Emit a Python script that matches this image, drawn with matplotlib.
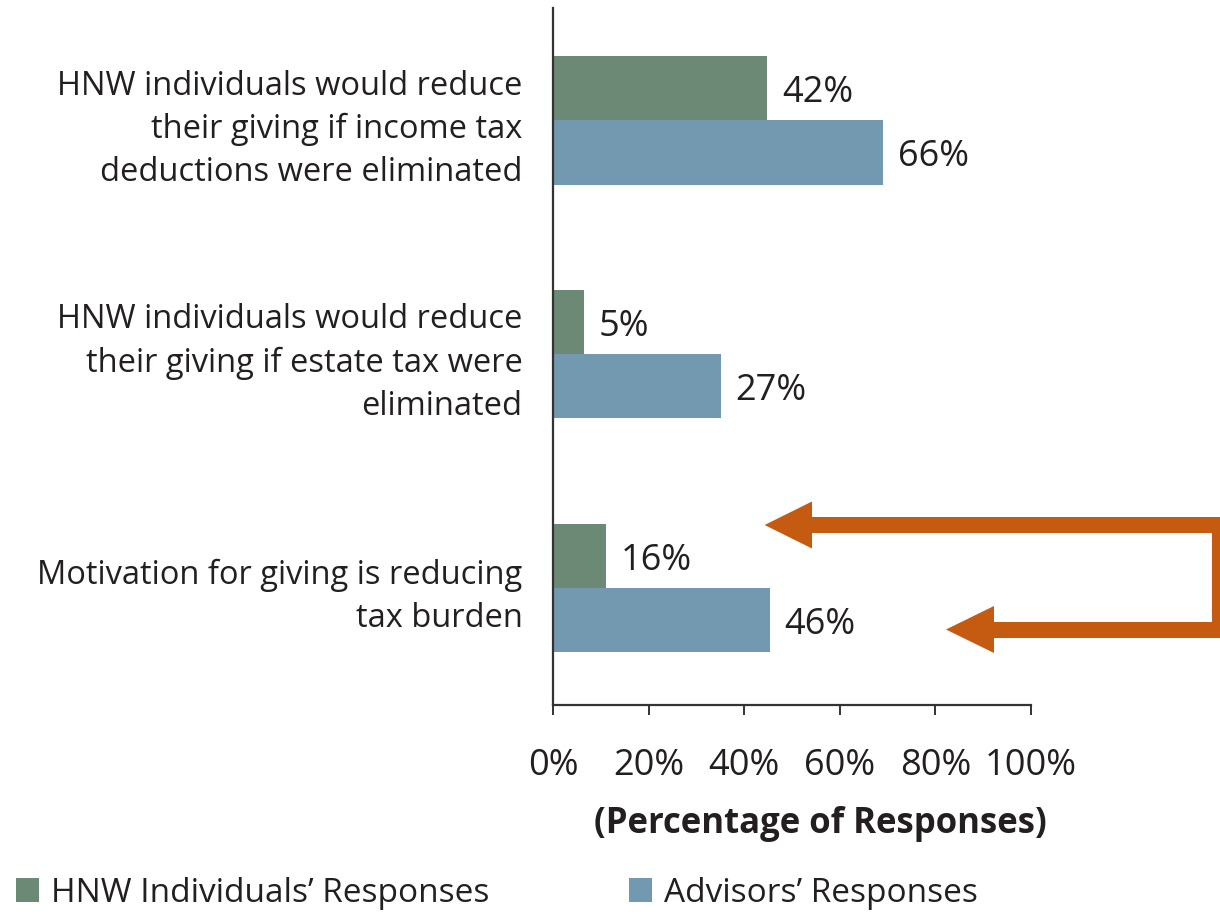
import matplotlib.pyplot as plt
from matplotlib.patches import Polygon
from matplotlib.lines import Line2D

# datos
categorias = ['HNW individuals would reduce\ntheir giving if income tax\ndeductions were eliminated',
              'HNW individuals would reduce\ntheir giving if estate tax were\neliminated',
              'Motivation for giving is reducing\ntax burden']
hnw_valores = [44.8, 6.5, 11.1]
asesores_valores = [69.0, 35.1, 45.3]
hnw_etiquetas = ['42%', '5%', '16%']
asesores_etiquetas = ['66%', '27%', '46%']
ticks_x = [0, 20, 40, 60, 80, 100]
ticks_etiquetas = ['0%', '20%', '40%', '60%', '80%', '100%']
series = ['HNW Individuals\u2019 Responses', 'Advisors\u2019 Responses']

verde = '#6B8974'
azul = '#7399B0'
naranja = '#C55A11'
texto = '#231F20'

plt.rcParams['font.family'] = ['Open Sans', 'DejaVu Sans']

W, H = 1220, 914
fig = plt.figure(figsize=(W / 100, H / 100), dpi=100)
ax = fig.add_axes([553 / W, 1 - 705 / H, (1031 - 553) / W, (705 - 8) / H])

alto = 0.275
pos = list(range(len(categorias)))
ax.barh([p - alto / 2 for p in pos], hnw_valores, height=alto, color=verde, label=series[0])
ax.barh([p + alto / 2 for p in pos], asesores_valores, height=alto, color=azul, label=series[1])

for p, v, t in zip(pos, hnw_valores, hnw_etiquetas):
    ax.text(v + 3.1, p - alto / 2 + 0.02, t, va='center', ha='left', fontsize=26, color=texto)
for p, v, t in zip(pos, asesores_valores, asesores_etiquetas):
    ax.text(v + 3.1, p + alto / 2 + 0.02, t, va='center', ha='left', fontsize=26, color=texto)

ax.set_xlim(0, 100)
ax.set_ylim(2.5, -0.48)
ax.set_yticks(pos)
ax.set_yticklabels(categorias, fontsize=23.5, color=texto, linespacing=1.4)
ax.set_xticks(ticks_x)
ax.set_xticklabels(ticks_etiquetas, fontsize=26, color=texto)
ax.tick_params(axis='y', length=0, pad=22)
ax.tick_params(axis='x', direction='out', length=7, width=1.4, color='#333333', pad=24)
for s in ['top', 'right']:
    ax.spines[s].set_visible(False)
for s in ['left', 'bottom']:
    ax.spines[s].set_color('#333333')
    ax.spines[s].set_linewidth(1.6)
ax.set_xlabel('(Percentage of Responses)', fontsize=25, fontweight='bold', color=texto,
              labelpad=16, x=0.559)

# flecha naranja en forma de corchete (coordenadas en pixeles de la figura)
def fx(x):
    return x / W

def fy(y):
    return 1 - y / H

linea = Line2D([fx(810), fx(1220), fx(1220), fx(992)], [fy(525), fy(525), fy(629.5), fy(629.5)],
               transform=fig.transFigure, color=naranja, linewidth=16 * 0.72,
               solid_joinstyle='miter', solid_capstyle='butt')
fig.add_artist(linea)
for xt, xb, yc in [(764.6, 812, 525), (946, 994, 629.5)]:
    tri = Polygon([(fx(xt), fy(yc)), (fx(xb), fy(yc - 23.5)), (fx(xb), fy(yc + 23.5))],
                  closed=True, transform=fig.transFigure, color=naranja, lw=0)
    fig.add_artist(tri)

fig.legend(loc='center left', bbox_to_anchor=(3 / W, fy(893)), ncol=2, frameon=False,
           fontsize=24, handlelength=0.68, handleheight=0.75, handletextpad=0.36,
           columnspacing=4.2, labelcolor=texto, borderaxespad=0)

plt.savefig('out.png', dpi=100)
